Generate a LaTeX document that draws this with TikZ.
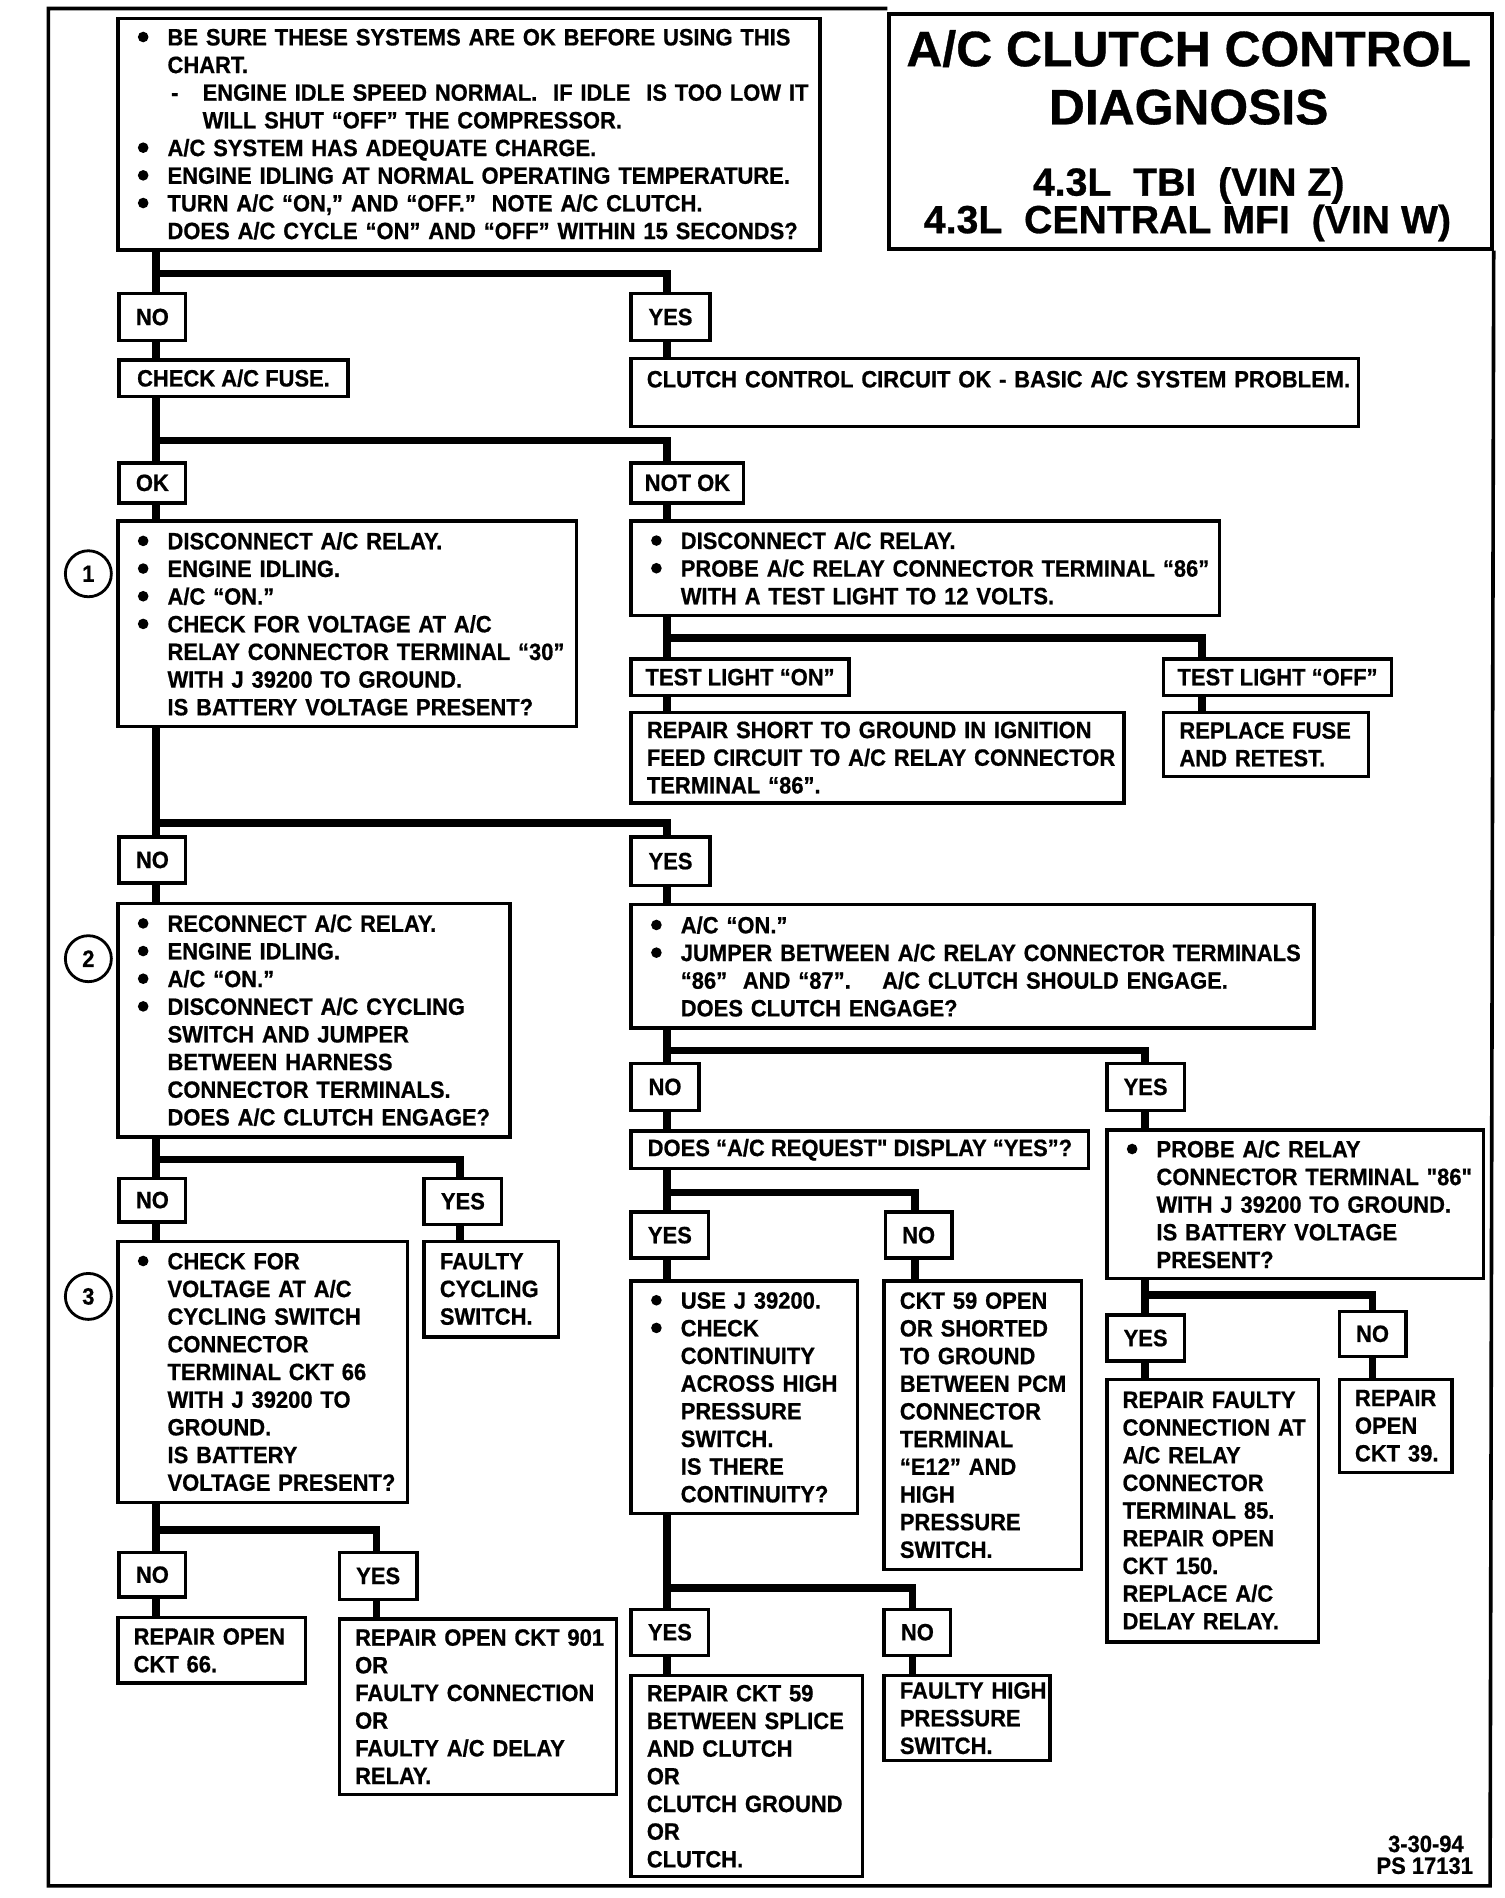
\documentclass[tikz,border=0pt]{standalone}
\usepackage{fontspec}
\usetikzlibrary{calc}
\setmainfont{Liberation Sans}
\newfontfamily\cf{Liberation Sans}[FakeStretch=0.93, FakeBold=0.7]
\newfontfamily\tf{Liberation Sans}[FakeBold=0.7]
\newlength\ulen \setlength\ulen{0.605pt}
\newcommand\bmark{\tikz[baseline=-4.2pt]\fill (0,0) circle[radius=2.65pt];}
\newcommand\bi[1]{\hspace*{3.5\ulen}\makebox[24.5\ulen][l]{\bmark}\mbox{#1}}
\newcommand\ci[1]{\hspace*{28\ulen}\mbox{#1}}
\newcommand\li[1]{\mbox{#1}}
\newcommand\branch[6]{%
  \draw[cn] (#1.south -| #2) -- (#3.north -| #2);
  \draw[cn] (#1.south -| #2) |- ($(#5.north -| #4)+(0,-#6)$) -- (#5.north -| #4);}
\newcommand\link[3]{\draw[cn] (#1.south -| #3) -- (#2.north -| #3);}
\frenchspacing
\tikzset{
  txt/.style={font=\cf\bfseries\fontsize{11.8pt}{13.83pt}\selectfont},
  bx/.style 2 args={txt, draw, line width=1.7pt, fill=white, anchor=north west,
    inner xsep=7.865pt, inner ysep=0pt,
    /utils/exec={\pgfmathsetmacro\bxw{#1*0.605}\pgfmathsetmacro\bxh{#2*0.605}\pgfmathsetmacro\bxt{(#1-26)*0.605}},
    minimum width=\bxw pt, minimum height=\bxh pt, text width=\bxt pt, align=left},
  lb/.style 2 args={txt, draw, line width=1.7pt, fill=white, anchor=north west, inner sep=0pt,
    /utils/exec={\pgfmathsetmacro\bxw{#1*0.605}\pgfmathsetmacro\bxh{#2*0.605}},
    minimum width=\bxw pt, minimum height=\bxh pt, align=center},
  cn/.style={line width=3.8pt, line join=miter},
  num/.style={txt, circle, draw, line width=1.4pt, minimum size=22.99pt, inner sep=0pt},
  frame/.style={line width=1.8pt},
  ttl/.style={font=\tf\bfseries\fontsize{24.9pt}{28pt}\selectfont, anchor=base},
  sttl/.style={font=\tf\bfseries\fontsize{19.6pt}{22pt}\selectfont, anchor=base},
}
\begin{document}
\begin{tikzpicture}[x=0.605pt, y=-0.605pt]
\fill[white] (0,0) rectangle (1243,1568);
\useasboundingbox (0,0) rectangle (1243,1568);

% title
\node[draw, line width=1.8pt, fill=white, anchor=north west, minimum width=301.3pt, minimum height=117.4pt, inner sep=0pt] (title) at (733,10) {};
\node[ttl] (t1) at (982,54.7) {A/C CLUTCH CONTROL};
\node[ttl] (t2) at (982,102.7) {DIAGNOSIS};
\node[sttl] (t3) at (982,161.6) {4.3L\ \ TBI\ \ (VIN Z)};
\node[sttl] (t4) at (981,192.6) {4.3L\ \ CENTRAL MFI\ \ (VIN W)};
\draw[frame] (title.north west |- 0,7) -- (40,7) -- (40,1558) -- (1231,1558) -- (title.south east);

% column coordinates
\coordinate (L) at (129,0);
\coordinate (R) at (551,0);
\coordinate (XT) at (993,0);
\coordinate (XY) at (946,0);
\coordinate (X2) at (380,0);
\coordinate (XN) at (756,0);
\coordinate (XP) at (1134,0);
\coordinate (X3) at (311,0);
\coordinate (XQ) at (754,0);

% boxes
\node[bx={580}{191}] (top) at (96,14) {%
\bi{BE SURE THESE SYSTEMS ARE OK BEFORE USING THIS}\\
\ci{CHART.}\\
\hspace*{31\ulen}\makebox[26\ulen][l]{-}\mbox{ENGINE IDLE SPEED NORMAL.\ \ IF IDLE\ \ IS TOO LOW IT}\\
\hspace*{57\ulen}\mbox{WILL SHUT “OFF” THE COMPRESSOR.}\\
\bi{A/C SYSTEM HAS ADEQUATE CHARGE.}\\
\bi{ENGINE IDLING AT NORMAL OPERATING TEMPERATURE.}\\
\bi{TURN A/C “ON,” AND “OFF.”\ \ NOTE A/C CLUTCH.}\\
\ci{DOES A/C CYCLE “ON” AND “OFF” WITHIN 15 SECONDS?}};

\node[lb={55}{39}] (noA) at (97,241) {NO};
\node[lb={65}{39}] (yesA) at (520,241) {YES};
\node[lb={189}{30}] (fuse) at (97,296) {CHECK A/C FUSE.};
\node[bx={601}{56}] (clok) at (520,295) {\li{CLUTCH CONTROL CIRCUIT OK - BASIC A/C SYSTEM PROBLEM.}\\ \mbox{}};
\node[lb={55}{33}] (okC) at (97,381) {OK};
\node[lb={93}{33}] (notokC) at (520,381) {NOT OK};

\node[bx={379}{170}] (b1) at (96,429) {%
\bi{DISCONNECT A/C RELAY.}\\
\bi{ENGINE IDLING.}\\
\bi{A/C “ON.”}\\
\bi{CHECK FOR VOLTAGE AT A/C}\\
\ci{RELAY CONNECTOR TERMINAL “30”}\\
\ci{WITH J 39200 TO GROUND.}\\
\ci{IS BATTERY VOLTAGE PRESENT?}};
\node[num] (c1) at (73,474) {1};

\node[bx={486}{78}] (discR) at (520,429) {%
\bi{DISCONNECT A/C RELAY.}\\
\bi{PROBE A/C RELAY CONNECTOR TERMINAL “86”}\\
\ci{WITH A TEST LIGHT TO 12 VOLTS.}};
\node[lb={180}{30}] (tlon) at (520,543) {TEST LIGHT “ON”};
\node[lb={188}{30}] (tloff) at (960,543) {TEST LIGHT “OFF”};
\node[bx={407}{75}] (rshort) at (520,587) {%
\li{REPAIR SHORT TO GROUND IN IGNITION}\\
\li{FEED CIRCUIT TO A/C RELAY CONNECTOR}\\
\li{TERMINAL “86”.}};
\node[bx={169}{53}] (rfuse) at (960,587) {\li{REPLACE FUSE}\\ \li{AND RETEST.}};

\node[lb={55}{38}] (noD) at (97,690) {NO};
\node[lb={65}{40}] (yesD) at (520,690) {YES};
\node[bx={324}{193}] (b2) at (96,745) {%
\bi{RECONNECT A/C RELAY.}\\
\bi{ENGINE IDLING.}\\
\bi{A/C “ON.”}\\
\bi{DISCONNECT A/C CYCLING}\\
\ci{SWITCH AND JUMPER}\\
\ci{BETWEEN HARNESS}\\
\ci{CONNECTOR TERMINALS.}\\
\ci{DOES A/C CLUTCH ENGAGE?}};
\node[num] (c2) at (73,792) {2};
\node[bx={564}{102}] (acon) at (520,746) {%
\bi{A/C “ON.”}\\
\bi{JUMPER BETWEEN A/C RELAY CONNECTOR TERMINALS}\\
\ci{“86”\ \ AND “87”.\ \ \ \ A/C CLUTCH SHOULD ENGAGE.}\\
\ci{DOES CLUTCH ENGAGE?}};

\node[lb={56}{39}] (noE) at (520,877) {NO};
\node[lb={64}{39}] (yesE) at (913,877) {YES};
\node[lb={378}{31}] (doesreq) at (520,933) {DOES “A/C REQUEST" DISPLAY “YES”?};
\node[bx={311}{123}] (probe) at (913,932) {%
\bi{PROBE A/C RELAY}\\
\ci{CONNECTOR TERMINAL "86"}\\
\ci{WITH J 39200 TO GROUND.}\\
\ci{IS BATTERY VOLTAGE}\\
\ci{PRESENT?}};

\node[lb={55}{36}] (noF) at (97,972) {NO};
\node[lb={64}{38}] (yesF) at (349,972) {YES};
\node[bx={239}{216}] (b3) at (96,1024) {%
\bi{CHECK FOR}\\
\ci{VOLTAGE AT A/C}\\
\ci{CYCLING SWITCH}\\
\ci{CONNECTOR}\\
\ci{TERMINAL CKT 66}\\
\ci{WITH J 39200 TO}\\
\ci{GROUND.}\\
\ci{IS BATTERY}\\
\ci{VOLTAGE PRESENT?}};
\node[num] (c3) at (73,1071) {3};
\node[bx={111}{79}] (fcyc) at (349,1024) {\li{FAULTY}\\ \li{CYCLING}\\ \li{SWITCH.}};

\node[lb={64}{38}] (yesG) at (520,1000) {YES};
\node[lb={55}{38}] (noG) at (730,1000) {NO};
\node[bx={187}{192}] (usej) at (520,1057) {%
\bi{USE J 39200.}\\
\bi{CHECK}\\
\ci{CONTINUITY}\\
\ci{ACROSS HIGH}\\
\ci{PRESSURE}\\
\ci{SWITCH.}\\
\ci{IS THERE}\\
\ci{CONTINUITY?}};
\node[bx={163}{238}] (ckt59) at (729,1057) {%
\li{CKT 59 OPEN}\\ \li{OR SHORTED}\\ \li{TO GROUND}\\ \li{BETWEEN PCM}\\ \li{CONNECTOR}\\
\li{TERMINAL}\\ \li{“E12” AND}\\ \li{HIGH}\\ \li{PRESSURE}\\ \li{SWITCH.}};

\node[lb={64}{38}] (yesH) at (913,1085) {YES};
\node[lb={55}{37}] (noH) at (1105,1082) {NO};
\node[bx={175}{217}] (rfaulty) at (913,1138) {%
\li{REPAIR FAULTY}\\ \li{CONNECTION AT}\\ \li{A/C RELAY}\\ \li{CONNECTOR}\\ \li{TERMINAL 85.}\\
\li{REPAIR OPEN}\\ \li{CKT 150.}\\ \li{REPLACE A/C}\\ \li{DELAY RELAY.}};
\node[bx={93}{77}] (r39) at (1105,1138) {\li{REPAIR}\\ \li{OPEN}\\ \li{CKT 39.}};

\node[lb={55}{37}] (noI) at (97,1281) {NO};
\node[lb={64}{39}] (yesI) at (279,1281) {YES};
\node[bx={155}{54}] (r66) at (96,1335) {\li{REPAIR OPEN}\\ \li{CKT 66.}};
\node[bx={229}{145}] (r901) at (279,1336) {%
\li{REPAIR OPEN CKT 901}\\ \li{OR}\\ \li{FAULTY CONNECTION}\\ \li{OR}\\ \li{FAULTY A/C DELAY}\\ \li{RELAY.}};

\node[lb={64}{38}] (yesJ) at (520,1328) {YES};
\node[lb={55}{38}] (noJ) at (729,1328) {NO};
\node[bx={191}{166}] (r59) at (520,1383) {%
\li{REPAIR CKT 59}\\ \li{BETWEEN SPLICE}\\ \li{AND CLUTCH}\\ \li{OR}\\ \li{CLUTCH GROUND}\\ \li{OR}\\ \li{CLUTCH.}};
\node[bx={137}{70}] (fhigh) at (729,1383) {\li{FAULTY HIGH}\\ \li{PRESSURE}\\ \li{SWITCH.}};

\node[txt, anchor=base] (d1) at (1178,1530) {3-30-94};
\node[txt, anchor=base] (d2) at (1177,1548) {PS 17131};

% connectors
\branch{top}{L}{noA}{R}{yesA}{15}
\link{noA}{fuse}{L} \link{yesA}{clok}{R}
\branch{fuse}{L}{okC}{R}{notokC}{17}
\link{okC}{b1}{L} \link{notokC}{discR}{R}
\branch{discR}{R}{tlon}{XT}{tloff}{16}
\link{tlon}{rshort}{R} \link{tloff}{rfuse}{XT}
\branch{b1}{L}{noD}{R}{yesD}{10}
\link{noD}{b2}{L} \link{yesD}{acon}{R}
\branch{acon}{R}{noE}{XY}{yesE}{9}
\link{noE}{doesreq}{R} \link{yesE}{probe}{XY}
\branch{b2}{L}{noF}{X2}{yesF}{14}
\link{noF}{b3}{L} \link{yesF}{fcyc}{X2}
\branch{doesreq}{R}{yesG}{XN}{noG}{15}
\link{yesG}{usej}{R} \link{noG}{ckt59}{XN}
\branch{probe}{XY}{yesH}{XP}{noH}{12}
\link{yesH}{rfaulty}{XY} \link{noH}{r39}{XP}
\branch{b3}{L}{noI}{X3}{yesI}{17}
\link{noI}{r66}{L} \link{yesI}{r901}{X3}
\branch{usej}{R}{yesJ}{XQ}{noJ}{16}
\link{yesJ}{r59}{R} \link{noJ}{fhigh}{XQ}
\end{tikzpicture}
\end{document}
